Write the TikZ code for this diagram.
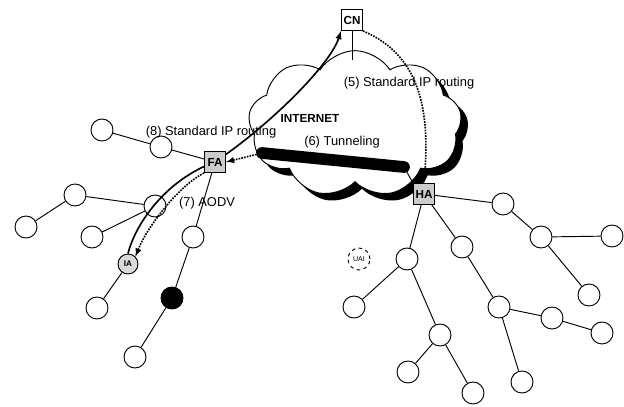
\documentclass[tikz,border=0pt]{standalone}
\usepackage{fontspec}
\setmainfont{Liberation Sans}
\usetikzlibrary{shapes.symbols,backgrounds}

\begin{document}
\begin{tikzpicture}[x=0.03cm, y=-0.03cm, >=latex,
    host/.style={circle, draw, thick, fill=white, minimum size=0.66cm, inner sep=0pt},
    agent/.style={draw, thick, fill=gray!40, minimum size=0.63cm, inner sep=0pt, font=\fontsize{10}{12}\selectfont\bfseries},
    route/.style={densely dotted, line width=1.4pt},
    lbl/.style={font=\fontsize{11}{13}\selectfont},
    net/.style={cloud, cloud puffs=9, cloud puff arc=115, aspect=1.4, minimum width=6.4cm, minimum height=4.4cm, inner sep=0pt}]
      \useasboundingbox (0,0) rectangle (624,406);

      % Agents and mobile nodes
      \node[agent, fill=white] (cn) at (352,20) {CN};
      \node[agent] (fa) at (215,162) {FA};
      \node[agent] (ha) at (424,194) {HA};
      \node[host, fill=gray!30, minimum size=0.6cm, font=\fontsize{7}{8}\selectfont\bfseries] (ia) at (128,264) {IA};
      \node[host, dashed, font=\fontsize{6}{7}\selectfont] (uai) at (359,259) {UAI};
      \node[host, fill=black] (mn) at (172,298) {};

      % Left tree
      \foreach \n/\x/\y in {l1/102/130, l2/161/147, l3/75/195, l4/26/227, l5/92/237,
                            l7/193/237, l8/97/308, l9/135/357} {
          \node[host] (\n) at (\x,\y) {};
        }

      % Right tree
      \foreach \n/\x/\y in {r1/503/204, r2/541/237, r3/612/236, r4/589/295, r5/462/247,
                            r6/499/307, r7/552/318, r8/602/333, r9/522/382, r10/407/259,
                            r11/354/307, r12/440/335, r13/408/372, r14/473/393} {
          \node[host] (\n) at (\x,\y) {};
        }

      % Labels
      \node[lbl] (lblfive) at (409,83) {(5) Standard IP routing};
      \node[font=\fontsize{10}{12}\selectfont\bfseries] (lblnet) at (310,118) {INTERNET};
      \node[lbl] (lblsix) at (342,142) {(6) Tunneling};
      \node[lbl] (lblseven) at (207,203) {(7) AODV};
      \node[lbl] (lbleight) at (211,132) {(8) Standard IP routing};

      \begin{pgfonlayer}{background}
        % Internet cloud with its shadow
        \node[net, fill=black] (netshadow) at (362,131) {};
        \node[net, draw, thick, fill=white] (inet) at (355,124) {};

        % Tree links
        \node[host] (l6) at (155,206) {};
        \foreach \a/\b in {l1/l2, l2/fa, l4/l3, l3/l6, l5/l6, fa/l7, l7/mn, mn/l9, ia/l8,
                           ha/r1, r1/r2, r2/r3, r2/r4, ha/r5, r5/r6, r6/r7, r7/r8, r6/r9,
                           ha/r10, r10/r11, r10/r12, r12/r13, r12/r14} {
            \draw[thick] (\a) -- (\b);
          }

        % Tunnel between HA and FA
        \coordinate (tunL) at (262,153);
        \coordinate (tunR) at (404,167);
        \draw[line width=10pt, line cap=round] (tunL) -- (tunR);
        \draw[thick] (tunR) -- (ha.north west);

        % CN attached to the internet
        \coordinate (cntop) at (352,60);
        \draw[thick] (cn) -- (cntop);

        % Routes
        \draw[->, line width=1.4pt] (ia.north) .. controls (135,225) and (165,180) .. (fa.center)
            .. controls (270,125) and (330,65) .. (cn.south west);
        \draw[->, route] (cn.south east) .. controls (420,55) and (430,110) .. (ha.north);
        \draw[->, route] (tunL) -- (fa.east);
        \draw[->, route] (fa.south west) .. controls (180,185) and (148,225) .. (ia.north east);
      \end{pgfonlayer}
    \end{tikzpicture}
\end{document}
